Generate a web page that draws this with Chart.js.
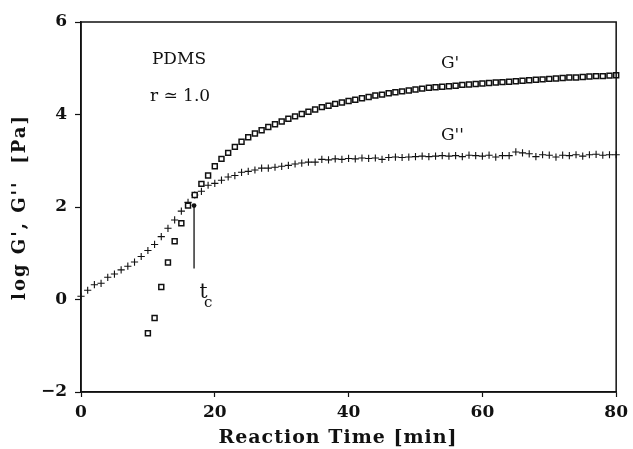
<!DOCTYPE html>
<html>
<head>
<meta charset="utf-8">
<script src="https://cdn.jsdelivr.net/npm/chart.js@4"></script>
<style>
  html, body { margin: 0; padding: 0; background: #fff; }
  #wrap { width: 633px; height: 449px; }
</style>
</head>
<body>
<div id="wrap"><canvas id="rheo"></canvas></div>
<script>
// storage modulus G' (open squares), sampled about once a minute from 10 min
const timeStorage = [10, 11, 12, 13, 14, 15, 16, 17, 18, 19, 20, 21, 22, 23, 24, 25, 26, 27, 28, 29,
  30, 31, 32, 33, 34, 35, 36, 37, 38, 39, 40, 41, 42, 43, 44, 45, 46, 47, 48, 49,
  50, 51, 52, 53, 54, 55, 56, 57, 58, 59, 60, 61, 62, 63, 64, 65, 66, 67, 68, 69,
  70, 71, 72, 73, 74, 75, 76, 77, 78, 79, 80];
const logStorage = [-0.73, -0.40, 0.27, 0.80, 1.26, 1.65, 2.03, 2.26, 2.50, 2.68, 2.88, 3.04, 3.17, 3.30, 3.41, 3.51, 3.59, 3.66, 3.73, 3.79,
  3.85, 3.91, 3.96, 4.01, 4.06, 4.11, 4.16, 4.19, 4.23, 4.26, 4.29, 4.32, 4.35, 4.38, 4.41, 4.43, 4.46, 4.48, 4.50, 4.52,
  4.54, 4.56, 4.58, 4.59, 4.60, 4.61, 4.62, 4.64, 4.65, 4.66, 4.67, 4.68, 4.69, 4.70, 4.71, 4.72, 4.73, 4.74, 4.75, 4.76,
  4.77, 4.78, 4.79, 4.80, 4.80, 4.81, 4.82, 4.83, 4.83, 4.84, 4.85];

// loss modulus G'' (crosses), from 0 min
const timeLoss = [0, 1, 2, 3, 4, 5, 6, 7, 8, 9, 10, 11, 12, 13, 14, 15, 16, 17, 18, 19,
  20, 21, 22, 23, 24, 25, 26, 27, 28, 29, 30, 31, 32, 33, 34, 35, 36, 37, 38, 39,
  40, 41, 42, 43, 44, 45, 46, 47, 48, 49, 50, 51, 52, 53, 54, 55, 56, 57, 58, 59,
  60, 61, 62, 63, 64, 65, 66, 67, 68, 69, 70, 71, 72, 73, 74, 75, 76, 77, 78, 79, 80];
const logLoss = [0.07, 0.20, 0.32, 0.35, 0.48, 0.55, 0.64, 0.72, 0.81, 0.93, 1.06, 1.19, 1.36, 1.54, 1.72, 1.91, 2.10, 2.26, 2.34, 2.47,
  2.51, 2.58, 2.65, 2.68, 2.75, 2.77, 2.80, 2.84, 2.84, 2.86, 2.88, 2.90, 2.93, 2.95, 2.97, 2.97, 3.03, 3.02, 3.04, 3.03,
  3.05, 3.04, 3.06, 3.05, 3.06, 3.03, 3.07, 3.08, 3.07, 3.08, 3.09, 3.10, 3.09, 3.10, 3.11, 3.10, 3.11, 3.09, 3.12, 3.11,
  3.10, 3.12, 3.08, 3.11, 3.11, 3.19, 3.17, 3.15, 3.09, 3.13, 3.12, 3.08, 3.12, 3.11, 3.13, 3.10, 3.13, 3.14, 3.12, 3.13, 3.13];

// gel point marker
const gelTime = [16.9, 16.9];
const gelLine = [0.67, 2.03];

const xTicks = [0, 20, 40, 60, 80];
const yTicks = [-2, 0, 2, 4, 6];

const ink = "#111";
const serif = "'DejaVu Serif', 'Liberation Serif', serif";

function pts(xs, ys) {
  return xs.map((x, i) => ({ x: x, y: ys[i] }));
}

const frameAndNotes = {
  id: "frameAndNotes",
  afterDatasetsDraw(chart) {
    const { ctx, chartArea: a, scales } = chart;
    const sx = scales.x, sy = scales.y;
    ctx.save();
    ctx.strokeStyle = ink;
    ctx.lineWidth = 1.5;
    ctx.strokeRect(a.left, a.top, a.width, a.height);

    ctx.fillStyle = ink;
    ctx.textBaseline = "alphabetic";
    ctx.textAlign = "left";
    ctx.font = "17px " + serif;
    ctx.fillText("PDMS", sx.getPixelForValue(10.6), sy.getPixelForValue(5.1));
    ctx.fillText("r \u2243 1.0", sx.getPixelForValue(10.3), sy.getPixelForValue(4.3));
    ctx.fillText("G'", sx.getPixelForValue(53.8), sy.getPixelForValue(5.0));
    ctx.fillText("G''", sx.getPixelForValue(53.8), sy.getPixelForValue(3.44));
    ctx.font = "20px " + serif;
    ctx.fillText("t", sx.getPixelForValue(17.7), sy.getPixelForValue(0.04));
    ctx.font = "15px " + serif;
    ctx.fillText("c", sx.getPixelForValue(18.4), sy.getPixelForValue(-0.17));

    // axis titles, spaced out like the typeset original
    ctx.font = "bold 19px " + serif;
    ctx.letterSpacing = "1px";
    ctx.textAlign = "center";
    ctx.textBaseline = "middle";
    ctx.fillText("Reaction Time [min]", 338, 438);
    ctx.translate(20, 207);
    ctx.rotate(-Math.PI / 2);
    ctx.font = "bold 18px " + serif;
    ctx.letterSpacing = "2px";
    ctx.fillText("log G', G''  [Pa]", 0, 0);
    ctx.restore();
  }
};

new Chart(document.getElementById("rheo"), {
  type: "scatter",
  data: {
    datasets: [
      {
        label: "G'",
        data: pts(timeStorage, logStorage),
        pointStyle: "rect",
        pointRadius: 3.5,
        borderWidth: 1.5,
        borderColor: ink,
        backgroundColor: "#fff",
        clip: false
      },
      {
        label: "G''",
        data: pts(timeLoss, logLoss),
        pointStyle: "cross",
        pointRadius: 3.6,
        borderWidth: 1.1,
        borderColor: ink,
        clip: false
      },
      {
        label: "tc",
        data: pts(gelTime, gelLine),
        showLine: true,
        borderColor: ink,
        borderWidth: 1.3,
        backgroundColor: ink,
        pointRadius: [0, 2.4],
        pointBorderWidth: 0
      }
    ]
  },
  options: {
    responsive: true,
    maintainAspectRatio: false,
    animation: false,
    layout: { padding: { top: 22, right: 15, left: 0, bottom: 0 } },
    plugins: {
      legend: { display: false },
      tooltip: { enabled: false }
    },
    scales: {
      x: {
        type: "linear",
        min: 0,
        max: 80,
        afterFit(s) { s.height = 57; },
        afterBuildTicks(s) { s.ticks = xTicks.map(v => ({ value: v })); },
        grid: { display: true, drawOnChartArea: false, color: ink, tickLength: 5, tickWidth: 1.2 },
        border: { display: true, color: ink, width: 1.5 },
        ticks: { color: ink, padding: 5, font: { family: serif, size: 17, weight: "bold" } }
      },
      y: {
        type: "linear",
        min: -2,
        max: 6,
        afterFit(s) { s.width = 81; },
        afterBuildTicks(s) { s.ticks = yTicks.map(v => ({ value: v })); },
        grid: { display: true, drawOnChartArea: false, color: ink, tickLength: 6, tickWidth: 1.2 },
        border: { display: true, color: ink, width: 1.5 },
        ticks: {
          color: ink,
          padding: 8,
          font: { family: serif, size: 17, weight: "bold" },
          callback: v => (v < 0 ? "\u2212" + Math.abs(v) : String(v))
        }
      }
    }
  },
  plugins: [frameAndNotes]
});
</script>
</body>
</html>
